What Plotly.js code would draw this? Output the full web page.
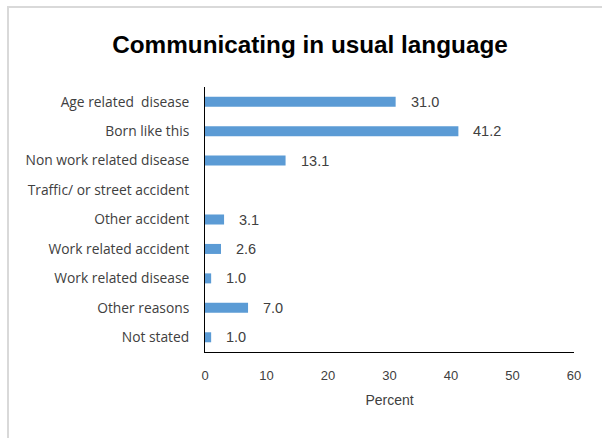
<!DOCTYPE html>
<html>
<head>
<meta charset="utf-8">
<script src="https://cdn.plot.ly/plotly-3.0.1.min.js"></script>
<style>
html,body{margin:0;padding:0;background:#fff;}
#wrap{position:relative;width:602px;height:438px;overflow:hidden;}
#chart{position:absolute;left:0;top:0;width:602px;height:438px;}
#frame{position:absolute;left:7px;top:6px;width:700px;height:500px;border-left:2px solid #d9d9d9;border-top:2px solid #d9d9d9;pointer-events:none;}
</style>
</head>
<body>
<div id="wrap"><div id="chart"></div><div id="frame"></div></div>
<script>
const categories = [
  "Age related  disease",
  "Born like this",
  "Non work related disease",
  "Traffic/ or street accident",
  "Other accident",
  "Work related accident",
  "Work related disease",
  "Other reasons",
  "Not stated"
];
const values = [31.0, 41.2, 13.1, null, 3.1, 2.6, 1.0, 7.0, 1.0];
const valueLabels = ["31.0", "41.2", "13.1", "", "3.1", "2.6", "1.0", "7.0", "1.0"];
const xTicks = [0, 10, 20, 30, 40, 50, 60];

const annotations = [];
categories.forEach((c, i) => {
  if (values[i] !== null && valueLabels[i] !== "") {
    annotations.push({
      x: values[i], y: c, xref: 'x', yref: 'y',
      text: valueLabels[i], showarrow: false,
      xanchor: 'left', yanchor: 'middle', xshift: 13,
      font: {family: 'Liberation Sans, Arial, sans-serif', size: 14.5, color: '#404040'}
    });
  }
});

const trace = {
  type: 'bar', orientation: 'h',
  x: values, y: categories,
  marker: {color: '#5b9bd5'},
  width: 0.34,
  hoverinfo: 'none'
};

const layout = {
  width: 602, height: 438,
  margin: {l: 205, r: 28, t: 87, b: 86},
  paper_bgcolor: 'rgba(0,0,0,0)', plot_bgcolor: 'rgba(0,0,0,0)',
  showlegend: false,
  title: {
    text: '<b>Communicating in usual language</b>',
    x: 310/602, xref: 'container', xanchor: 'center',
    y: 1 - 44/438, yref: 'container', yanchor: 'middle',
    font: {family: 'Liberation Sans, Arial, sans-serif', size: 24.3, color: '#000'}
  },
  xaxis: {
    range: [0, 60], tickvals: xTicks, ticktext: xTicks.map(String),
    showgrid: false, zeroline: false,
    showline: true, linecolor: '#000', linewidth: 1,
    ticks: '', ticklabelstandoff: 11,
    tickfont: {family: 'Liberation Sans, Arial, sans-serif', size: 13, color: '#404040'},
    title: {text: 'Percent', standoff: 13, font: {family: 'Liberation Sans, Arial, sans-serif', size: 14, color: '#404040'}},
    fixedrange: true
  },
  yaxis: {
    autorange: 'reversed', type: 'category',
    showgrid: false, zeroline: false,
    showline: true, linecolor: '#000', linewidth: 1,
    ticks: '', ticklabelstandoff: 12,
    tickfont: {family: 'Open Sans, sans-serif', size: 13.8, color: '#404040'},
    fixedrange: true
  },
  annotations: annotations
};

Plotly.newPlot('chart', [trace], layout, {displayModeBar: false, staticPlot: true});
</script>
</body>
</html>
